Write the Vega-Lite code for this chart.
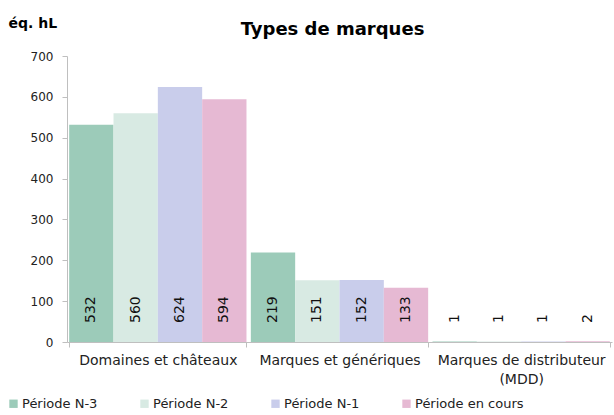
{
  "$schema": "https://vega.github.io/schema/vega-lite/v6.json",
  "width": 545,
  "height": 286,
  "autosize": {"type": "none"},
  "padding": {"left": 67, "top": 56, "right": 2, "bottom": 73},
  "background": "white",
  "config": {
    "font": "DejaVu Sans",
    "view": {"stroke": null}
  },
  "title": {
    "text": "Types de marques",
    "fontSize": 18,
    "fontWeight": "bold",
    "color": "#000000",
    "anchor": "middle",
    "dx": -7,
    "offset": -23
  },
  "data": {
    "values": [
      {"cat": "Domaines et châteaux", "periode": "Période N-3", "v": 532},
      {"cat": "Domaines et châteaux", "periode": "Période N-2", "v": 560},
      {"cat": "Domaines et châteaux", "periode": "Période N-1", "v": 624},
      {"cat": "Domaines et châteaux", "periode": "Période en cours", "v": 594},
      {"cat": "Marques et génériques", "periode": "Période N-3", "v": 219},
      {"cat": "Marques et génériques", "periode": "Période N-2", "v": 151},
      {"cat": "Marques et génériques", "periode": "Période N-1", "v": 152},
      {"cat": "Marques et génériques", "periode": "Période en cours", "v": 133},
      {"cat": "Marques de distributeur (MDD)", "periode": "Période N-3", "v": 1},
      {"cat": "Marques de distributeur (MDD)", "periode": "Période N-2", "v": 1},
      {"cat": "Marques de distributeur (MDD)", "periode": "Période N-1", "v": 1},
      {"cat": "Marques de distributeur (MDD)", "periode": "Période en cours", "v": 2}
    ]
  },
  "encoding": {
    "x": {
      "field": "cat",
      "type": "nominal",
      "sort": null,
      "scale": {"paddingInner": 0.024, "paddingOuter": 0.012},
      "axis": {
        "title": null,
        "labelAngle": 0,
        "labelFontSize": 14,
        "labelColor": "#222222",
        "labelPadding": 6,
        "labelLimit": 300,
        "labelLineHeight": 19,
        "labelExpr": "datum.label == 'Marques de distributeur (MDD)' ? ['Marques de distributeur', '(MDD)'] : datum.label",
        "domainColor": "#bfbfbf",
        "tickColor": "#bfbfbf",
        "tickBand": "extent",
        "tickSize": 5
      }
    },
    "xOffset": {
      "field": "periode",
      "type": "nominal",
      "sort": ["Période N-3", "Période N-2", "Période N-1", "Période en cours"],
      "scale": {"paddingInner": 0, "paddingOuter": 0}
    }
  },
  "layer": [
    {
      "mark": {"type": "bar"},
      "encoding": {
        "y": {
          "field": "v",
          "type": "quantitative",
          "scale": {"domain": [0, 700], "nice": false},
          "axis": {
            "title": "éq. hL",
            "titleAngle": 0,
            "titleAlign": "left",
            "titleBaseline": "alphabetic",
            "titleX": -59,
            "titleY": -29,
            "titleFontSize": 14,
            "titleFontWeight": "bold",
            "titleColor": "#000000",
            "values": [0, 100, 200, 300, 400, 500, 600, 700],
            "labelFontSize": 12,
            "labelColor": "#222222",
            "labelPadding": 9,
            "grid": false,
            "domainColor": "#bfbfbf",
            "tickColor": "#bfbfbf",
            "tickSize": 5
          }
        },
        "color": {
          "field": "periode",
          "type": "nominal",
          "sort": ["Période N-3", "Période N-2", "Période N-1", "Période en cours"],
          "scale": {
            "domain": ["Période N-3", "Période N-2", "Période N-1", "Période en cours"],
            "range": ["#9ccbb9", "#d8eae3", "#c9cdeb", "#e6b9d3"]
          },
          "legend": {
            "title": null,
            "orient": "none",
            "legendX": -60,
            "legendY": 341,
            "direction": "horizontal",
            "columns": 4,
            "gridAlign": "all",
            "columnPadding": 7,
            "symbolType": "square",
            "symbolSize": 70,
            "symbolStrokeWidth": 0,
            "symbolOpacity": 1,
            "labelFontSize": 13,
            "labelColor": "#222222",
            "labelOffset": 2,
            "labelLimit": 200
          }
        }
      }
    },
    {
      "mark": {
        "type": "text",
        "angle": -90,
        "align": "left",
        "baseline": "middle",
        "dx": 19,
        "fontSize": 14,
        "color": "#111111"
      },
      "encoding": {
        "y": {"datum": 0, "type": "quantitative"},
        "text": {"field": "v", "type": "quantitative"}
      }
    }
  ]
}
